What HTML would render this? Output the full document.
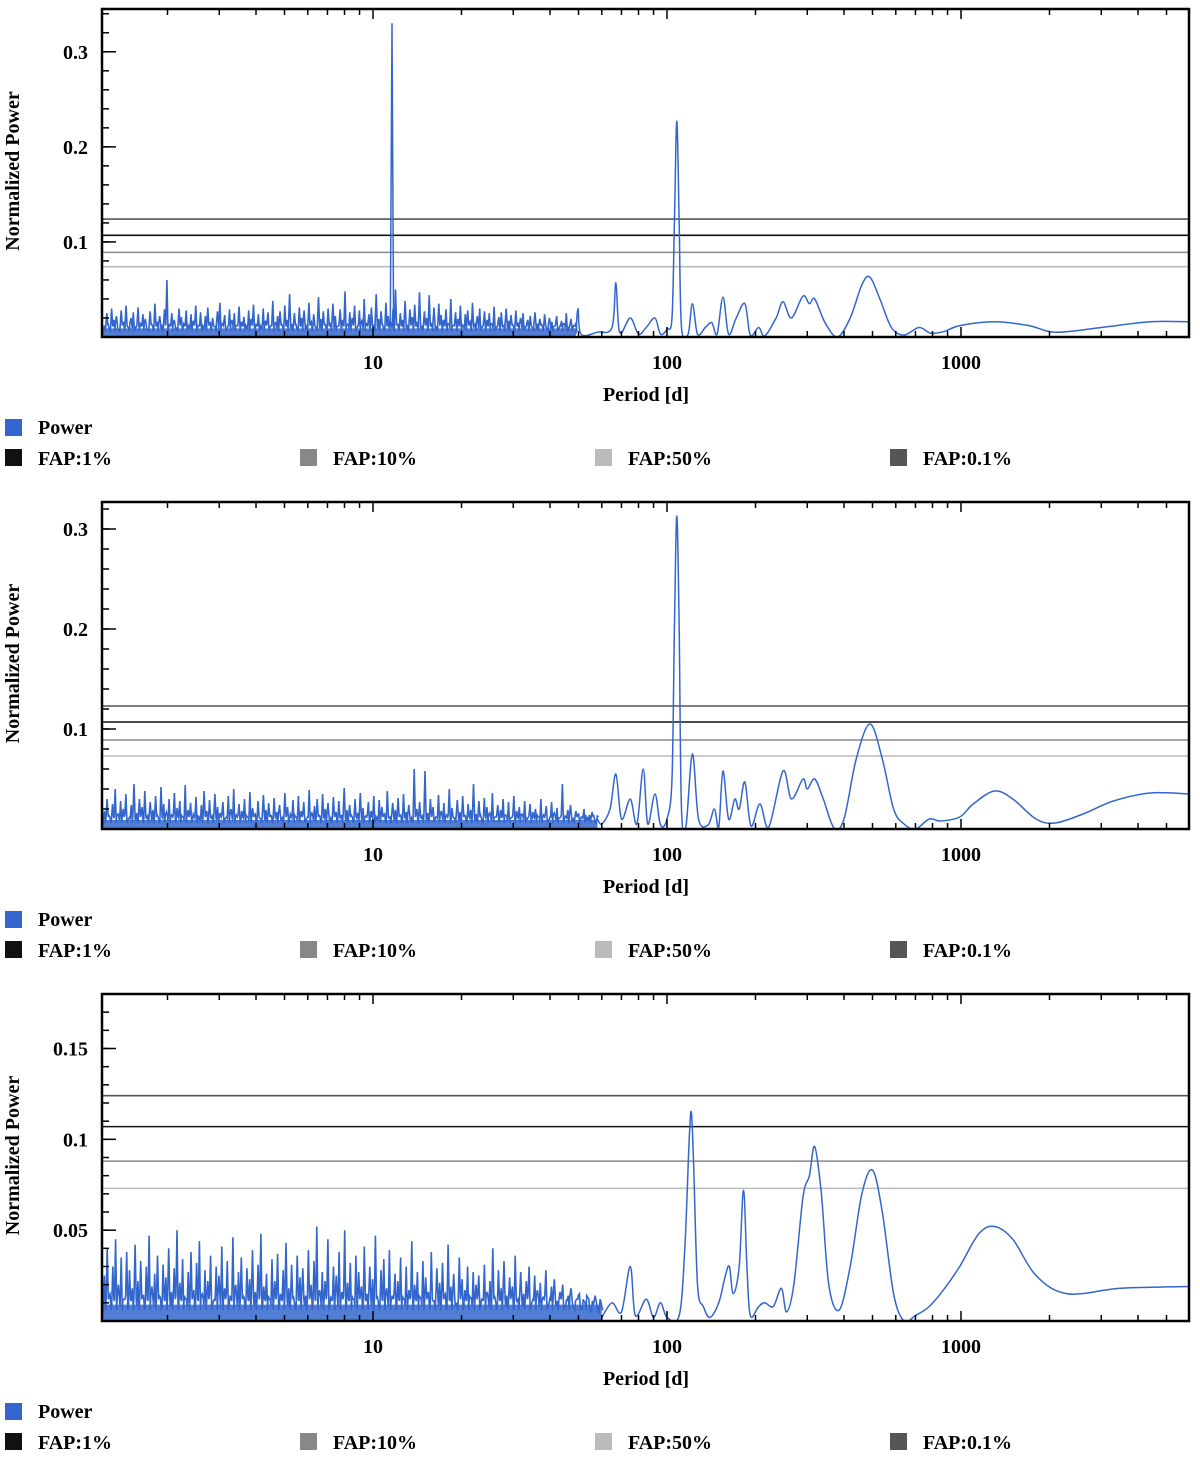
<!DOCTYPE html>
<html><head><meta charset="utf-8"><style>
html,body{margin:0;padding:0;background:#fff;width:1200px;height:1459px;overflow:hidden}
svg{display:block}
text{font-family:"Liberation Serif",serif;font-weight:bold}
</style></head><body>
<svg id="chart" width="1200" height="1459" viewBox="0 0 1200 1459"></svg>
<script>
// ---------- DATA ----------
const xTickValues=[10,100,1000];
const xTickLabels=["10","100","1000"];
const fapLabels=["FAP:1%","FAP:10%","FAP:50%","FAP:0.1%"];
const fapColors=["#111","#888","#bbb","#555"];
const fap1=[0.107,0.089,0.074,0.124];
const fap2=[0.107,0.089,0.073,0.123];
const fap3=[0.107,0.088,0.073,0.124];
const yTicks1=[0.1,0.2,0.3], yTickLabels1=["0.1","0.2","0.3"];
const yTicks2=[0.1,0.2,0.3], yTickLabels2=["0.1","0.2","0.3"];
const yTicks3=[0.05,0.1,0.15], yTickLabels3=["0.05","0.1","0.15"];
const noise1="12 25 8 30 18 22 6 28 15 33 10 20 26 9 31 14 24 19 7 27 12 35 16 22 11 29 60 13 25 18 9 30 21 14 28 10 24 17 33 12 26 8 22 31 15 20 11 27 36 14 23 9 29 18 25 12 32 16 21 10 28 19 34 13 24 8 30 17 26 11 38 15 22 27 12 33 18 45 14 25 9 31 20 28 13 36 16 24 10 42 19 27 12 30 15 35 22 11 29 18 48 13 26 20 33 10 28 17 40 14 24 31 12 45 19 27 9 36 22 15 30 50 13 25 18 38 11 29 21 34 16 47 12 27 20 44 15 31 10 35 23 18 29 14 40 12 26 19 33 11 24 28 16 36 13 22 30 10 27 18 25 14 32 9 21 26 12 30 17 23 11 28 15 20 25 10 18 22 9 26 14 19 12 24 8 20 16 11 22 9 17 14 25 8 19 12 15".split(" ").map(Number);
const noise2="18 30 12 25 40 15 28 20 35 10 24 45 16 30 22 38 13 27 19 33 11 42 25 17 30 14 36 21 28 12 44 19 26 15 32 10 24 38 18 29 13 35 22 16 27 11 33 20 40 14 25 18 30 12 37 21 15 28 10 34 19 26 13 31 17 24 11 36 22 15 29 12 33 18 27 10 39 16 23 30 13 35 20 26 11 32 17 28 14 41 19 24 12 30 16 36 21 13 27 18 33 10 29 22 15 38 12 26 19 31 14 35 17 24 11 60 20 27 13 58 16 30 22 12 34 18 26 14 40 21 11 29 17 33 13 25 19 45 15 28 10 31 22 16 36 12 24 19 30 14 27 11 33 18 22 15 28 10 25 17 20 12 30 14 23 9 27 16 21 11 45 13 19 24 10 18 15 12 20 9 14 17 8 13";
const noise2v=noise2.split(" ").map(Number);
const noise3="25 40 15 30 45 20 35 12 38 28 18 42 22 33 14 30 47 19 26 36 13 31 24 40 16 29 50 21 34 12 27 38 17 32 44 15 28 22 36 11 30 25 41 18 33 14 46 20 27 35 13 29 23 39 16 31 48 19 26 12 34 22 37 15 28 43 18 31 10 36 24 29 14 39 20 33 52 17 27 22 45 13 30 25 38 16 50 21 32 12 36 27 19 41 15 30 23 47 11 28 34 18 39 14 26 22 35 12 30 17 44 20 27 13 33 24 16 38 11 29 21 32 15 42 19 26 10 35 23 17 30 13 27 20 25 12 31 16 22 40 11 28 18 33 14 24 19 36 12 27 15 22 30 10 25 17 21 13 28 9 19 23 11 16 20 8 14 18 7 12 15 6 10 13 5 9 11 4 8";
const noise3v=noise3.split(" ").map(Number);
const noiseRange1=[1.22,49], noiseRange2=[1.22,58], noiseRange3=[1.22,60];
const spike1Period=[11.45,11.6,11.75], spike1Power=[0.01,0.33,0.01];
const sP1=[49,49.8,51,58,65,67,69,75,80,85,91,95,100,104,106,108,110,112,118,122,127,135,142,148,155,162,172,184,192,205,215,235,248,265,290,305,318,345,380,420,460,490,530,580,640,720,790,880,990,1300,1700,2100,3000,4400,6000];
const sV1=[0.003,0.03,0.003,0.005,0.01,0.057,0.005,0.02,0.003,0.01,0.02,0.003,0.008,0.02,0.12,0.227,0.12,0.01,0.003,0.035,0.003,0.01,0.015,0.003,0.042,0.003,0.02,0.035,0.002,0.01,0.001,0.02,0.037,0.02,0.043,0.035,0.04,0.015,0.0,0.02,0.055,0.063,0.04,0.01,0.002,0.01,0.004,0.006,0.012,0.016,0.012,0.005,0.01,0.016,0.016];
const sP2=[58,60,64,67,70,75,79,83,86,91,95,100,104,106,108,110,112,116,122,128,138,145,150,155,162,170,176,184,193,207,222,248,265,290,300,318,340,370,400,440,490,540,590,640,700,780,850,990,1100,1300,1500,1800,2090,2600,3300,4400,6000];
const sV2=[0.01,0.005,0.02,0.055,0.01,0.03,0.005,0.06,0.005,0.035,0.004,0.01,0.05,0.2,0.313,0.2,0.02,0.003,0.075,0.01,0.004,0.02,0.002,0.058,0.01,0.03,0.02,0.047,0.003,0.025,0.002,0.058,0.03,0.05,0.04,0.05,0.03,0.001,0.01,0.07,0.105,0.07,0.02,0.005,0.0,0.01,0.008,0.012,0.025,0.038,0.03,0.01,0.006,0.015,0.028,0.036,0.035];
const sP3=[60,65,70,75,78,85,90,95,100,110,115,119,121,123,127,133,140,150,158,163,168,176,182,187,192,205,215,230,245,255,270,290,305,318,335,355,385,420,460,500,540,590,640,700,780,880,990,1150,1300,1500,1800,2300,3500,6000];
const sV3=[0.002,0.01,0.005,0.03,0.003,0.012,0.002,0.01,0.002,0.003,0.04,0.1,0.115,0.09,0.02,0.008,0.002,0.01,0.025,0.03,0.015,0.03,0.072,0.03,0.003,0.008,0.01,0.008,0.018,0.005,0.02,0.068,0.08,0.096,0.07,0.02,0.006,0.03,0.07,0.083,0.06,0.015,0.0,0.003,0.008,0.018,0.03,0.048,0.052,0.045,0.025,0.015,0.018,0.019];

// ---------- RENDER ----------
const NS="http://www.w3.org/2000/svg";
const svg=document.getElementById('chart');
function mk(tag,attrs,parent){const e=document.createElementNS(NS,tag);for(const k in attrs)e.setAttribute(k,attrs[k]);(parent||svg).appendChild(e);return e;}
const X0=102,X1=1189;
function xScale(p){return 373+(Math.log10(p)-1)*294;}
function catmull(pts){let d="M"+pts[0][0].toFixed(1)+","+pts[0][1].toFixed(1);
 for(let i=0;i<pts.length-1;i++){const p0=pts[Math.max(0,i-1)],p1=pts[i],p2=pts[i+1],p3=pts[Math.min(pts.length-1,i+2)];
  const c1=[p1[0]+(p2[0]-p0[0])/6,p1[1]+(p2[1]-p0[1])/6],c2=[p2[0]-(p3[0]-p1[0])/6,p2[1]-(p3[1]-p1[1])/6];
  d+=" C"+c1[0].toFixed(1)+","+c1[1].toFixed(1)+" "+c2[0].toFixed(1)+","+c2[1].toFixed(1)+" "+p2[0].toFixed(1)+","+p2[1].toFixed(1);}
 return d;}
function panel(idx,top,bottom,ymax,yTicks,yLabels,minorStep,fap,noise,noiseRange,sP,sV){
 const g=mk('g',{});
 
 
 const yScale=v=>bottom-(v/ymax)*(bottom-top);
 const clip=mk('clipPath',{id:'c'+idx},g);mk('rect',{x:X0,y:top,width:X1-X0,height:bottom-top},clip);
 const plot=mk('g',{'clip-path':'url(#c'+idx+')'},g);
 fap.forEach((f,i)=>{const l=mk('line',{x1:X0,x2:X1,y1:yScale(f),y2:yScale(f),stroke:fapColors[i],'stroke-width':1.6},plot);
  
  });
 const n=noise.length,la=Math.log10(noiseRange[0]),lb=Math.log10(noiseRange[1]);
 let d="M"+X0+","+bottom;
 for(let i=0;i<n;i++){const p=Math.pow(10,la+(lb-la)*i/(n-1));const x=xScale(p);
  d+=" L"+(x-1.1).toFixed(1)+","+yScale(0.008+(i%3)*0.003).toFixed(1)+" L"+x.toFixed(1)+","+yScale(noise[i]/1000).toFixed(1)+" L"+(x+1.1).toFixed(1)+","+yScale(0.006+(i%2)*0.006).toFixed(1);}
 const np=mk('path',{d:d,fill:'none',stroke:'#3366cc','stroke-width':1.6},plot);
 
 
 const fb=mk('rect',{x:X0,y:yScale(0.009),width:xScale(noiseRange[1])-X0,height:bottom-yScale(0.009),fill:'#3366cc',opacity:0.85},plot);
 
 
 const pts=sP.map((p,i)=>[xScale(p),yScale(sV[i])]);
 const sp=mk('path',{d:catmull(pts),fill:'none',stroke:'#3366cc','stroke-width':1.5},plot);
 
 
 if(idx===1){const sd=spike1Period.map((p,i)=>(i?"L":"M")+xScale(p).toFixed(1)+","+yScale(spike1Power[i]).toFixed(1)).join(" ");
  const s=mk('path',{d:sd,fill:'none',stroke:'#3366cc','stroke-width':1.5},plot);
  
  }
 const fr=mk('rect',{x:X0,y:top,width:X1-X0,height:bottom-top,fill:'none',stroke:'#000','stroke-width':2.5},g);
 
 
 for(let e=0;e<4;e++)for(let m=1;m<10;m++){const p=m*Math.pow(10,e);const x=xScale(p);if(x<X0+2||x>X1-2)continue;const L=m===1?10:6;
  mk('line',{x1:x,x2:x,y1:bottom,y2:bottom-L,stroke:'#000','stroke-width':1.5},g);mk('line',{x1:x,x2:x,y1:top,y2:top+L,stroke:'#000','stroke-width':1.5},g);}
 xTickValues.forEach((v,i)=>{const t=mk('text',{x:xScale(v),y:bottom+32,'text-anchor':'middle','font-size':20},g);t.textContent=xTickLabels[i];
  });
 const xt=mk('text',{x:646,y:bottom+64,'text-anchor':'middle','font-size':20},g);xt.textContent="Period [d]";
 
 for(let v=minorStep;v<ymax;v+=minorStep){const y=yScale(v);mk('line',{x1:X0,x2:X0+7,y1:y,y2:y,stroke:'#000','stroke-width':1.5},g);}
 yTicks.forEach((v,i)=>{const y=yScale(v);mk('line',{x1:X0,x2:X0+14,y1:y,y2:y,stroke:'#000','stroke-width':1.5},g);
  const t=mk('text',{x:88,y:y+7,'text-anchor':'end','font-size':20},g);t.textContent=yLabels[i];
  });
 const yt=mk('text',{x:0,y:0,'text-anchor':'middle','font-size':20,transform:'translate(19,'+((top+bottom)/2-2)+') rotate(-90)'},g);yt.textContent="Normalized Power";
 
 const lg=mk('g',{},g);
 
 
 const ly=bottom+90;
 mk('rect',{x:5,y:ly-8,width:17,height:17,fill:'#3366cc'},lg);
 const pt=mk('text',{x:38,y:ly+7,'font-size':20},lg);pt.textContent="Power";
 
 fapLabels.forEach((l,i)=>{const x=5+i*295;mk('rect',{x:x,y:ly+22,width:17,height:17,fill:fapColors[i]},lg);
  const t=mk('text',{x:x+33,y:ly+38,'font-size':20},lg);t.textContent=l;
  });
}
panel(1,9,337,0.345,yTicks1,yTickLabels1,0.02,fap1,noise1,noiseRange1,sP1,sV1);
panel(2,502,829,0.327,yTicks2,yTickLabels2,0.02,fap2,noise2v,noiseRange2,sP2,sV2);
panel(3,994,1321,0.18,yTicks3,yTickLabels3,0.01,fap3,noise3v,noiseRange3,sP3,sV3);
</script>
</body></html>
